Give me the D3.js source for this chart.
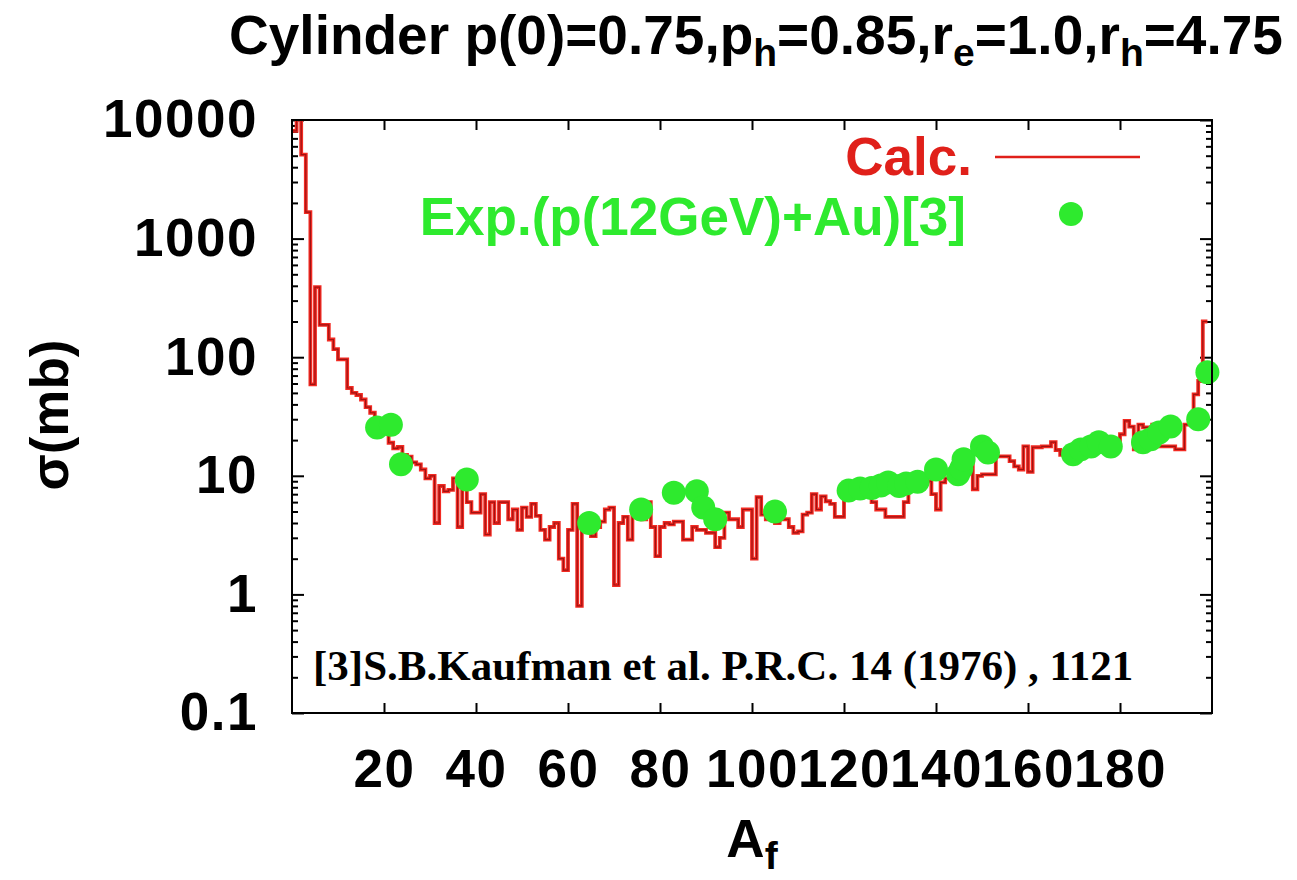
<!DOCTYPE html>
<html>
<head>
<meta charset="utf-8">
<script src="https://cdn.jsdelivr.net/npm/d3@7"></script>
<style>
body { margin: 0; background: #fff; }
svg { display: block; font-family: "Liberation Sans", Arial, sans-serif; font-weight: bold; }
</style>
</head>
<body>
<svg id="chart" width="1297" height="880"></svg>
<script>
// calculated cross section, one value per unit bin of A_f (bin i covers A = i .. i+1)
var calcSigma = [
  8100, 20000, 5100, 1670, 59, 390, 187, 187, 141, 117,
  96, 96, 55, 50, 48, 44, 38, 34, 30, 26,
  23, 19, 17, 17.5, 15, 14.5, 13, 12.5, 11.3, 9.5,
  10, 4.0, 8.2, 7.4, 7.6, 9.5, 3.7, 9.3, 6, 4.9,
  4.9, 7, 3.2, 6, 4, 6, 6, 4.3, 5.2, 3.5,
  5.4, 4.5, 5.8, 4.6, 3.5, 2.9, 3.7, 4.0, 2.0, 1.6,
  3.5, 5.8, 0.8, 3.7, 4.0, 3.1, 3.7, 4.1, 5.2, 5.4,
  1.2, 4.0, 4.5, 2.9, 5.2, 6, 4.3, 6, 3.7, 2.1,
  3.7, 4, 3.9, 4.1, 4.1, 2.9, 2.9, 3.7, 3.5, 3.5,
  3.3, 3.3, 2.5, 3.0, 4.9, 4.3, 4.3, 3.7, 5.2, 5.2,
  2.0, 6.6, 4.7, 4.3, 4.3, 4.0, 4.3, 4.3, 3.7, 3.3,
  3.4, 4.7, 4.9, 7, 5.2, 6.7, 6.1, 5.8, 4.5, 4.5,
  6.3, 7.2, 7.4, 7.2, 7.7, 7.5, 6.0, 5.2, 5.2, 4.5,
  4.5, 4.5, 4.5, 6.0, 7.8, 8.0, 8.2, 8.6, 9.0, 7.0,
  5.2, 8.8, 9.5, 9.8, 10.5, 11, 12, 12.5, 7.7, 10,
  10.3, 10.3, 10.3, 14.6, 14.6, 14.6, 13.3, 12, 11.3, 17.7,
  10.8, 17.4, 17.4, 17.7, 17.7, 19.2, 16.5, 15, 13.8, 14.5,
  15.5, 16.5, 17, 17.5, 18, 18.5, 17.5, 18, 19, 20,
  22.4, 29, 26, 16.7, 27, 25.6, 25.6, 27, 17.7, 17.7,
  17.7, 17.7, 16.7, 16.7, 27, 28.8, 48.5, 63, 200
];

// experimental points p(12GeV)+Au
var expA = [18.5, 21.5, 23.7, 38, 64.6, 75.9, 83, 88, 89.4, 92, 105,
  121, 123.5, 126, 128, 129.6, 132, 133.5, 136, 140, 144.8, 145.5, 146, 150, 151.3,
  169.8, 171.5, 173.7, 175.4, 178, 185, 186.7, 188.5, 191, 197, 199];
var expSigma = [25.5, 27, 12.5, 9.3, 4.0, 5.2, 7.2, 7.4, 5.4, 4.3, 5.0,
  7.5, 7.8, 7.9, 8.3, 8.8, 8.2, 8.6, 8.9, 11.3, 10.3, 11.5, 13.8, 17.7, 15.7,
  15.2, 16.7, 17.7, 19.2, 17.7, 19.2, 20.3, 23.2, 26, 30, 74.6];

var xTicks = [20, 40, 60, 80, 100, 120, 140, 160, 180];
var yTicks = [0.1, 1, 10, 100, 1000, 10000];
var yTickLabels = ["0.1", "1", "10", "100", "1000", "10000"];

var plotLeft = 292, plotRight = 1212, plotTop = 120, plotBottom = 713;
var svg = d3.select("#chart");

var x = d3.scaleLinear().domain([0, 200]).range([plotLeft, plotRight]);
var y = d3.scaleLog().domain([0.1, 10000]).range([plotBottom, plotTop]);

// minor ticks on the log axis
var yMinor = [];
yTicks.slice(0, -1).forEach(function (d) {
  for (var k = 2; k < 10; k++) yMinor.push(d * k);
});

//---------AXES
function styleAxis(g) {
  g.select(".domain").remove();
  g.selectAll("line").attr("stroke", "#000").attr("stroke-width", 2);
  g.selectAll("text").attr("font-size", 53).attr("font-weight", "bold")
    .attr("letter-spacing", 1.5)
    .attr("font-family", "'Liberation Sans', Arial, sans-serif").attr("fill", "#000");
}

svg.append("g").attr("transform", "translate(" + plotLeft + ",0)")
  .call(d3.axisLeft(y).tickValues(yTicks).tickFormat(function (d, i) { return yTickLabels[i]; })
    .tickSize(-12).tickPadding(34))
  .call(styleAxis);
svg.append("g").attr("transform", "translate(" + plotLeft + ",0)")
  .call(d3.axisLeft(y).tickValues(yMinor).tickFormat("").tickSize(-6))
  .call(styleAxis);
svg.append("g").attr("transform", "translate(" + plotRight + ",0)")
  .call(d3.axisRight(y).tickValues(yTicks).tickFormat("").tickSize(-12))
  .call(styleAxis);
svg.append("g").attr("transform", "translate(" + plotRight + ",0)")
  .call(d3.axisRight(y).tickValues(yMinor).tickFormat("").tickSize(-6))
  .call(styleAxis);
svg.append("g").attr("transform", "translate(0," + plotBottom + ")")
  .call(d3.axisBottom(x).tickValues(xTicks).tickFormat(d3.format("d")).tickSize(-10).tickPadding(36))
  .call(styleAxis);
svg.append("g").attr("transform", "translate(0," + plotTop + ")")
  .call(d3.axisTop(x).tickValues(xTicks).tickFormat("").tickSize(-10))
  .call(styleAxis);

//---------CALC histogram
svg.append("clipPath").attr("id", "plotClip").append("rect")
  .attr("x", plotLeft).attr("y", plotTop).attr("width", plotRight - plotLeft).attr("height", plotBottom - plotTop);

var steps = calcSigma.map(function (v, i) { return [i, v]; });
steps.push([calcSigma.length, calcSigma[calcSigma.length - 1]]);
var stepLine = d3.line()
  .x(function (d) { return x(d[0]); })
  .y(function (d) { return y(d[1]); })
  .curve(d3.curveStepAfter);

var plot = svg.append("g").attr("clip-path", "url(#plotClip)");
plot.append("path").datum(steps).attr("d", stepLine)
  .attr("fill", "none").attr("stroke", "#f22a22").attr("stroke-width", 3.8);
plot.append("path").datum(steps).attr("d", stepLine)
  .attr("fill", "none").attr("stroke", "#a01212").attr("stroke-width", 1.2);

//---------EXP points
svg.append("g").selectAll("circle").data(expA).enter().append("circle")
  .attr("cx", function (d) { return x(d); })
  .attr("cy", function (d, i) { return y(expSigma[i]); })
  .attr("r", 12)
  .attr("fill", "#2eea2e");

//---------frame
svg.append("rect").attr("x", plotLeft).attr("y", plotTop).attr("width", plotRight - plotLeft).attr("height", plotBottom - plotTop)
  .attr("fill", "none").attr("stroke", "#000").attr("stroke-width", 2);

//---------legend
svg.append("text").attr("x", 972).attr("y", 175).attr("text-anchor", "end")
  .attr("font-size", 53).attr("fill", "#e0201a").text("Calc.");
svg.append("line").attr("x1", 995).attr("x2", 1140).attr("y1", 157).attr("y2", 157)
  .attr("stroke", "#e0201a").attr("stroke-width", 2.5);
svg.append("text").attr("x", 966).attr("y", 235).attr("text-anchor", "end")
  .attr("font-size", 53).attr("fill", "#2eea2e").text("Exp.(p(12GeV)+Au)[3]");
svg.append("circle").attr("cx", 1071).attr("cy", 214).attr("r", 12).attr("fill", "#2eea2e");

//---------reference note
svg.append("text").attr("x", 313).attr("y", 680)
  .attr("font-family", "'Liberation Serif', 'Times New Roman', serif")
  .attr("font-size", 43).attr("fill", "#000")
  .text("[3]S.B.Kaufman et al. P.R.C. 14 (1976) , 1121");

//---------title
var title = svg.append("text").attr("x", 756).attr("y", 54).attr("text-anchor", "middle").attr("font-size", 55);
var parts = [["Cylinder p(0)=0.75,p", false], ["h", true], ["=0.85,r", false], ["e", true],
  ["=1.0,r", false], ["h", true], ["=4.75", false]];
parts.forEach(function (p, i) {
  var prev = i > 0 && parts[i - 1][1];
  title.append("tspan")
    .attr("dy", p[1] ? 12 : (prev ? -12 : 0))
    .attr("font-size", p[1] ? 39 : 55)
    .text(p[0]);
});

//---------axis labels
var xl = svg.append("text").attr("x", 752).attr("y", 857).attr("text-anchor", "middle").attr("font-size", 53);
xl.append("tspan").text("A");
xl.append("tspan").attr("dy", 12).attr("font-size", 39).text("f");

svg.append("text").attr("transform", "translate(68,415) rotate(-90)")
  .attr("text-anchor", "middle").attr("font-size", 53).text("σ(mb)");
</script>
</body>
</html>
